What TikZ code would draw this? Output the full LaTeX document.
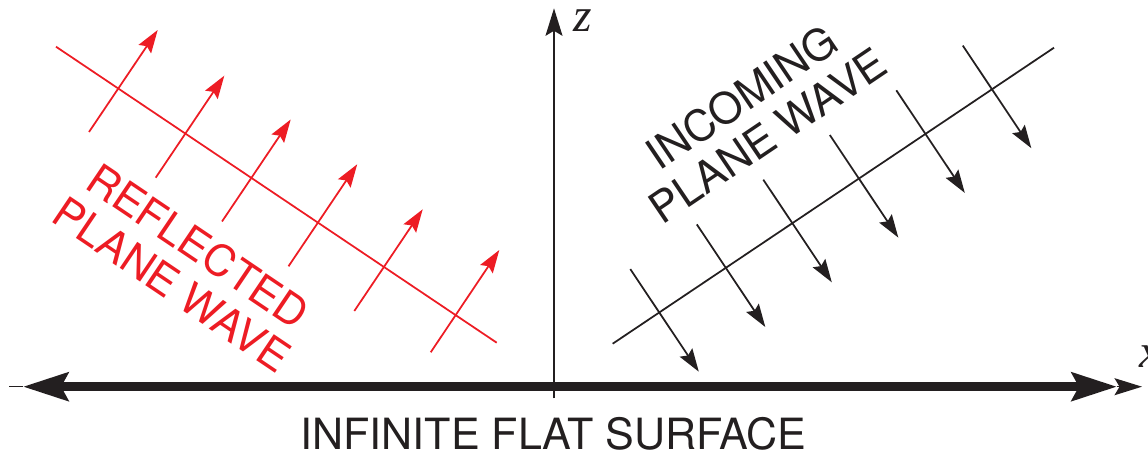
\documentclass[tikz,border=0pt]{standalone}
\usepackage{fontspec}
\usepackage{xcolor}
\usepackage{tikz}
\usetikzlibrary{arrows.meta}
\newfontfamily\capsfont{TeX Gyre Heros}
\newfontfamily\axfont{Liberation Serif}
\definecolor{wavered}{RGB}{237,28,36}
\definecolor{ink}{RGB}{35,31,32}

\begin{document}
\begin{tikzpicture}[
  x=0.02cm, y=0.02cm, ink,
  font=\capsfont\fontsize{24.5}{26.5}\selectfont,
  front/.style={line width=1pt},
  ray/.style={-{Stealth[length=4.6mm, width=3mm, inset=0.7mm]}, line width=1pt},
  axis/.style={-{Stealth[length=5.5mm, width=3.4mm, inset=1mm]}, line width=0.9pt},
  surface/.style={{Stealth[length=9mm, width=5.6mm, inset=1.4mm]}-{Stealth[length=9mm, width=5.6mm, inset=1.4mm]},
                  line width=5pt},
  axlabel/.style={font=\axfont\itshape\fontsize{27}{30}\selectfont},
]
\useasboundingbox (0,0) rectangle (1148,456);
% axes and surface
\coordinate (xl) at (9,69.3);   \coordinate (xr) at (1142,69.3);
\coordinate (sl) at (23,69.3);  \coordinate (sr) at (1117,69.3);
\coordinate (zb) at (554,57.7); \coordinate (zt) at (554,447.7);
\draw[line width=0.9pt] (xl) -- (sl); \draw[axis] (sr) -- (xr);
\draw[surface] (sl) -- (sr);
\draw[axis] (zb) -- (zt);
\node[axlabel] (zlab) at (582.5,435.5) {z};
\node[axlabel] (xlab) at (1150,99) {x};
\node[anchor=base] (surf) at (553.5,6.7) {INFINITE FLAT SURFACE};
% reflected wave
\begin{scope}[wavered]
\draw[front] (56,409.3) -- (496.7,113.3);
\draw[ray] (89,324) -- (157.7,426);       \draw[ray] (155.7,278.3) -- (224.3,380.3);
\draw[ray] (222,234.5) -- (290.7,336.5);  \draw[ray] (288.5,189.7) -- (357.2,291.7);
\draw[ray] (354.3,145) -- (422.7,246.7);  \draw[ray] (430.7,103.7) -- (499.3,206);
\node[rotate=-34, align=center] (refl) at (185.3,191.1) {REFLECTED\\PLANE WAVE};
\end{scope}
% incoming wave
\draw[front] (612.7,112.3) -- (1054,408.3);
\draw[ray] (630.3,186.9) -- (698.8,84.3);  \draw[ray] (696.8,231.6) -- (765.3,129);
\draw[ray] (763.3,276.3) -- (831.8,173.7);  \draw[ray] (829.8,321) -- (898.3,218.4);
\draw[ray] (896.3,365.7) -- (964.8,263.1);  \draw[ray] (962.8,410.4) -- (1031.3,307.8);
\node[rotate=34, align=center] (inc) at (754.5,339.8) {INCOMING\\PLANE WAVE};
\end{tikzpicture}
\end{document}
